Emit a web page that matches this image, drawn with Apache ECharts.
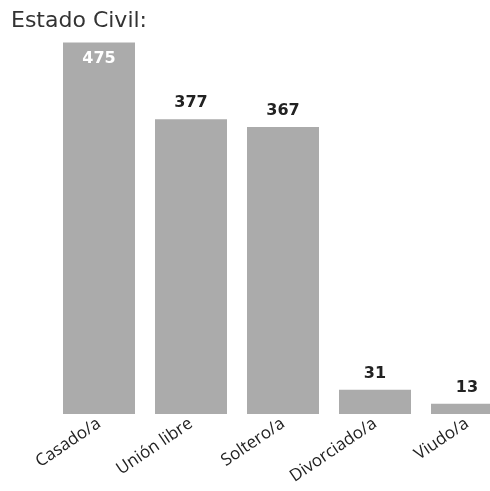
<!DOCTYPE html>
<html>
<head>
<meta charset="utf-8">
<script src="https://cdn.jsdelivr.net/npm/echarts@6/dist/echarts.min.js"></script>
<style>
  html, body { margin: 0; padding: 0; background: #fff; }
  #chart { width: 490px; height: 491px; }
</style>
</head>
<body>
<div id="chart"></div>
<script>
const categories = ['Casado/a', 'Unión libre', 'Soltero/a', 'Divorciado/a', 'Viudo/a'];
const values = [475, 377, 367, 31, 13];

const chart = echarts.init(document.getElementById('chart'));

const option = {
  animation: false,
  title: {
    text: 'Estado Civil:',
    left: 6,
    top: 5,
    textStyle: { fontFamily: 'DejaVu Sans', fontSize: 22, fontWeight: 'normal', color: '#333' }
  },
  grid: { left: 53, width: 460, top: 23, bottom: 77, outerBoundsMode: 'none' },
  xAxis: {
    type: 'category',
    data: categories,
    axisLine: { show: false },
    axisTick: { show: false },
    axisLabel: {
      rotate: 34,
      margin: 8,
      fontFamily: 'Open Sans',
      fontSize: 17,
      color: '#222'
    }
  },
  yAxis: {
    type: 'value',
    min: 0,
    max: 500,
    show: false
  },
  series: [{
    type: 'bar',
    data: values.map((v, i) => ({
      value: v,
      label: i === 0
        ? { position: 'insideTop', distance: 8, color: '#fff' }
        : { position: 'top', distance: 8, color: '#222' }
    })),
    barWidth: 72,
    itemStyle: { color: '#ababab' },
    label: {
      show: true,
      fontFamily: 'DejaVu Sans',
      fontWeight: 'bold',
      fontSize: 16
    }
  }]
};

chart.setOption(option);
</script>
</body>
</html>
